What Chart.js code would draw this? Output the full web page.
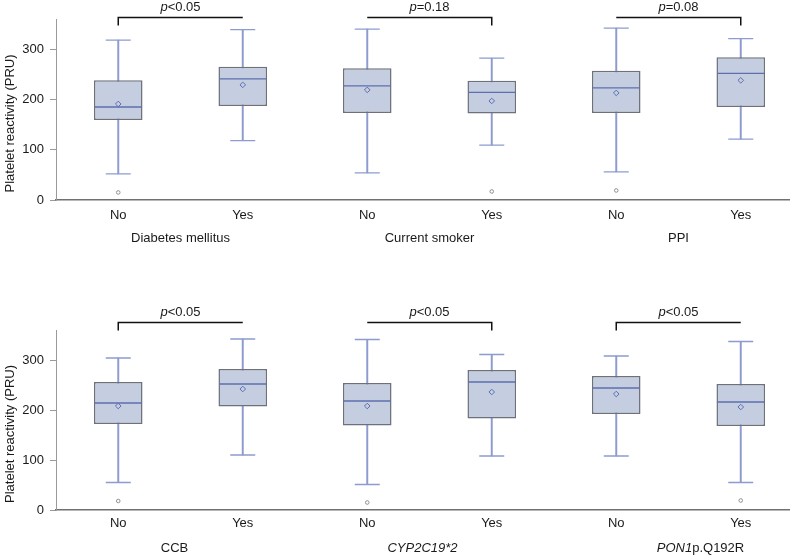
<!DOCTYPE html>
<html><head><meta charset="utf-8">
<script src="https://cdn.jsdelivr.net/npm/chart.js@4.4.1/dist/chart.umd.min.js"></script>
<style>
html,body{margin:0;padding:0;background:#fff;overflow:hidden;}
#wrap{width:790px;height:555px;overflow:hidden;position:relative;background:#fff;}
canvas{display:block;}
</style></head><body>
<div id="wrap">
<canvas id="c1" width="804" height="270" style="width:804px;height:270px"></canvas>
<canvas id="c2" width="804" height="285" style="width:804px;height:285px"></canvas>
</div>
<script>
// ---------- data ----------
const categories = ['No', 'Yes', 'No', 'Yes', 'No', 'Yes'];
const yTicks = [0, 100, 200, 300];
const yTitle = 'Platelet reactivity (PRU)';

// top panel
const topGroups = ['Diabetes mellitus', 'Current smoker', 'PPI'];
const topGroupItalic = ['', '', ''];
const topPText = ['<0.05', '=0.18', '=0.08'];
const topBracketDrop = ['left', 'right', 'right'];
const topWhiskerLow = [52, 118, 54, 109, 56, 121];
const topQ1 = [159, 187, 173, 172, 173, 185];
const topMedian = [185, 241, 227, 214, 223, 252];
const topQ3 = [238, 265, 262, 237, 257, 284];
const topWhiskerHigh = [318, 339, 340, 282, 342, 321];
const topMean = [191, 229, 219, 197, 213, 238];
const topOutlier = [15, null, null, 17, 19, null];

// bottom panel
const botGroups = ['CCB', 'CYP2C19*2', 'PON1p.Q192R'];
const botGroupItalic = ['', 'CYP2C19*2', 'PON1'];
const botPText = ['<0.05', '<0.05', '<0.05'];
const botBracketDrop = ['left', 'right', 'left'];
const botWhiskerLow = [55, 110, 51, 108, 108, 55];
const botQ1 = [172, 207, 169, 183, 192, 168];
const botMedian = [214, 252, 218, 256, 244, 216];
const botQ3 = [256, 282, 254, 280, 268, 252];
const botWhiskerHigh = [304, 342, 341, 311, 308, 337];
const botMean = [208, 242, 208, 236, 232, 206];
const botOutlier = [18, null, 15, null, null, 19];

// ---------- styles ----------
const FONT = '"Liberation Sans", Arial, Helvetica, sans-serif';
const BOX_FILL = '#c5cee0';
const BOX_EDGE = '#6c717b';
const MEDIAN_COL = '#5d6fb0';
const WHISK_COL = '#8d9bcf';
const TEXT_COL = '#1a1a1a';

function drawRich(ctx, parts, cx, y) {
  let total = 0;
  parts.forEach(p => { ctx.font = (p.i ? 'italic ' : '') + '13px ' + FONT; p.w = ctx.measureText(p.t).width; total += p.w; });
  let x = cx - total / 2;
  ctx.textAlign = 'left';
  ctx.textBaseline = 'middle';
  parts.forEach(p => { ctx.font = (p.i ? 'italic ' : '') + '13px ' + FONT; ctx.fillText(p.t, x, y); x += p.w; });
}

const annotPlugin = {
  id: 'annot',
  afterDraw(chart, args, o) {
    const { ctx, chartArea, scales: { x, y } } = chart;
    ctx.save();
    ctx.fillStyle = TEXT_COL;
    // y axis title
    ctx.save();
    ctx.translate(10, (chartArea.top + chartArea.bottom) / 2 + 14);
    ctx.rotate(-Math.PI / 2);
    ctx.font = '13px ' + FONT;
    ctx.textAlign = 'center';
    ctx.textBaseline = 'middle';
    ctx.fillText(yTitle, 0, 0);
    ctx.restore();
    // group labels, brackets
    o.groups.forEach((g, k) => {
      const x0 = x.getPixelForValue(2 * k);
      const x1 = x.getPixelForValue(2 * k + 1);
      const mid = (x0 + x1) / 2;
      const it = o.italic[k];
      const parts = [];
      if (it) parts.push({ t: it, i: true });
      if (g.length > it.length) parts.push({ t: g.slice(it.length), i: false });
      drawRich(ctx, parts, mid + (o.labelShift[k] || 0), chartArea.bottom + 38);
      // bracket
      const by = Math.round(y.getPixelForValue(o.bracketLevel)) + 0.5;
      ctx.strokeStyle = '#111';
      ctx.lineWidth = 1.5;
      ctx.beginPath();
      if (o.drop[k] === 'left') {
        ctx.moveTo(x0, by + 8); ctx.lineTo(x0, by); ctx.lineTo(x1, by);
      } else {
        ctx.moveTo(x0, by); ctx.lineTo(x1, by); ctx.lineTo(x1, by + 8);
      }
      ctx.stroke();
      drawRich(ctx, [{ t: 'p', i: true }, { t: o.p[k], i: false }], mid, by - 10);
    });
    ctx.restore();
  }
};

function makePanel(id, d) {
  const canvas = document.getElementById(id);
  return new Chart(canvas, {
    type: 'bar',
    data: {
      labels: categories,
      datasets: [
        { type: 'bar', label: 'whisker', data: d.wl.map((v, i) => [v, d.wh[i]]),
          backgroundColor: WHISK_COL, borderWidth: 0, barThickness: 1.3, grouped: false, order: 5 },
        { type: 'bar', label: 'box', data: d.q1.map((v, i) => [v, d.q3[i]]),
          backgroundColor: BOX_FILL, borderColor: BOX_EDGE, borderWidth: 1.5, borderSkipped: false,
          barPercentage: 0.39, categoryPercentage: 1, grouped: false, order: 4 },
        { type: 'line', label: 'capLow', data: d.wl, showLine: false, pointStyle: 'line',
          pointRadius: 12.5, pointHoverRadius: 12.5, pointBorderColor: WHISK_COL, pointBorderWidth: 1.3, order: 3 },
        { type: 'line', label: 'capHigh', data: d.wh, showLine: false, pointStyle: 'line',
          pointRadius: 12.5, pointHoverRadius: 12.5, pointBorderColor: WHISK_COL, pointBorderWidth: 1.3, order: 3 },
        { type: 'line', label: 'median', data: d.med, showLine: false, pointStyle: 'line',
          pointRadius: 23.5, pointHoverRadius: 23.5, pointBorderColor: MEDIAN_COL, pointBorderWidth: 1.3, order: 2 },
        { type: 'line', label: 'mean', data: d.mean, showLine: false, pointStyle: 'rectRot',
          pointRadius: 2.8, pointHoverRadius: 2.8, pointBorderColor: MEDIAN_COL, pointBackgroundColor: 'rgba(0,0,0,0)', pointBorderWidth: 1, order: 1 },
        { type: 'line', label: 'outlier', data: d.out, showLine: false, pointStyle: 'circle',
          pointRadius: 1.8, pointHoverRadius: 1.8, pointBorderColor: '#8a8f99', pointBackgroundColor: '#fff', pointBorderWidth: 1, order: 1 }
      ]
    },
    options: {
      responsive: false, animation: false, devicePixelRatio: 1,
      layout: { autoPadding: false, padding: { top: d.padTop, left: 0, right: 1, bottom: 0 } },
      plugins: {
        legend: { display: false }, tooltip: { enabled: false },
        annot: { groups: d.groups, italic: d.italic, p: d.p, drop: d.drop, bracketLevel: d.bracket, labelShift: d.shift }
      },
      scales: {
        x: {
          type: 'category', offset: true,
          grid: { display: false, drawTicks: false },
          border: { display: true, color: '#707070', width: 1.5 },
          ticks: { color: TEXT_COL, font: { family: FONT, size: 13 }, padding: d.tickPad, maxRotation: 0, autoSkip: false },
          afterFit(s) { s.height = d.xHeight; }
        },
        y: {
          min: 0, max: 360,
          grid: { display: true, drawOnChartArea: false, drawTicks: true, tickLength: 6, color: '#9a9a9a', lineWidth: 1 },
          border: { display: true, color: '#9a9a9a', width: 1 },
          ticks: { color: TEXT_COL, font: { family: FONT, size: 13 }, padding: 6 },
          afterBuildTicks(s) { s.ticks = yTicks.map(v => ({ value: v })); },
          afterFit(s) { s.width = 56; }
        }
      }
    },
    plugins: [annotPlugin]
  });
}

makePanel('c1', {
  wl: topWhiskerLow, q1: topQ1, med: topMedian, q3: topQ3, wh: topWhiskerHigh, mean: topMean, out: topOutlier,
  groups: topGroups, italic: topGroupItalic, p: topPText, drop: topBracketDrop,
  bracket: 363, shift: [0, 0, 0], padTop: 19, xHeight: 70, tickPad: 8
});
makePanel('c2', {
  wl: botWhiskerLow, q1: botQ1, med: botMedian, q3: botQ3, wh: botWhiskerHigh, mean: botMean, out: botOutlier,
  groups: botGroups, italic: botGroupItalic, p: botPText, drop: botBracketDrop,
  bracket: 376, shift: [-6, -7, 22], padTop: 60, xHeight: 45, tickPad: 6
});
</script>
</body></html>
